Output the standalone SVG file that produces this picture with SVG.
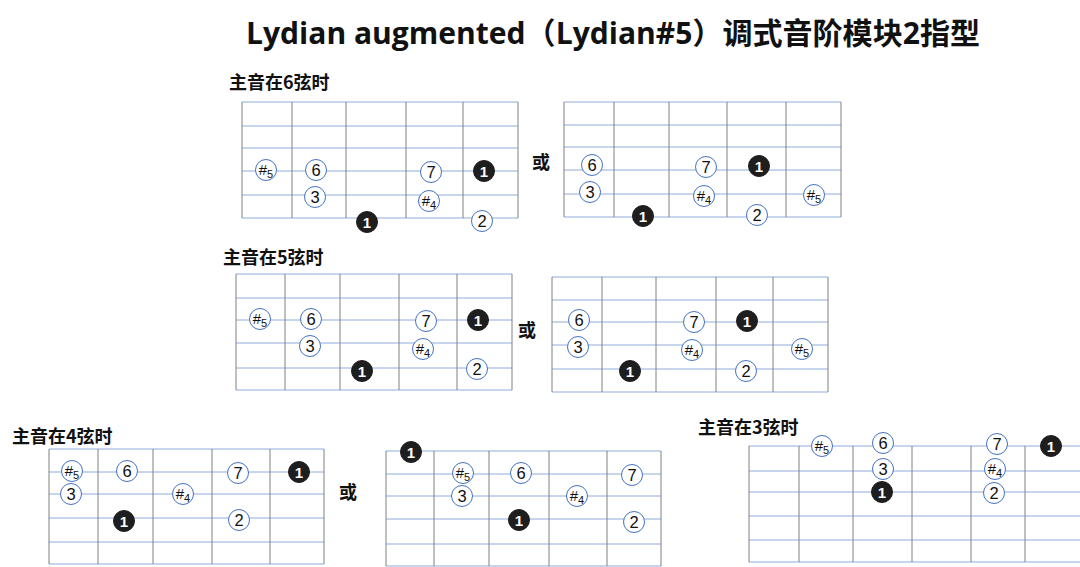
<svg xmlns="http://www.w3.org/2000/svg" width="1080" height="567" viewBox="0 0 1080 567">
<style>
.s{stroke:#8eaadb;stroke-width:1;fill:none}
.f{stroke:#808080;stroke-width:1;fill:none}
.n{fill:#fff;stroke:#4472c4;stroke-width:1}
.r{fill:#1e1e1e;stroke:#1e1e1e;stroke-width:1}
.t{font-family:"Liberation Sans","DejaVu Sans",sans-serif;font-size:16.5px;fill:#111;text-anchor:middle}
.rt{font-family:"Liberation Sans","DejaVu Sans",sans-serif;font-size:15px;font-weight:bold;fill:#fff;text-anchor:middle}
.sh{font-family:"Liberation Sans","DejaVu Sans",sans-serif;font-size:15px;fill:#111;text-anchor:middle}
.sub{font-size:11px}
.lb{font-family:"Noto Sans CJK SC",sans-serif;font-size:18px;font-weight:bold;fill:#111}
.or{font-family:"Noto Sans CJK SC",sans-serif;font-size:18px;font-weight:bold;fill:#111;text-anchor:middle}
</style>
<rect width="1080" height="567" fill="#fff"/>
<text x="246" y="44" textLength="734" lengthAdjust="spacingAndGlyphs" style="font-family:'Open Sans','Noto Sans CJK SC',sans-serif;font-size:30px;font-weight:bold;fill:#111">Lydian augmented（Lydian#5）调式音阶模块2指型</text>
<text class="lb" x="229" y="89">主音在6弦时</text>
<text class="lb" x="223" y="264">主音在5弦时</text>
<text class="lb" x="12" y="443">主音在4弦时</text>
<text class="lb" x="698" y="434">主音在3弦时</text>
<text class="or" x="541" y="169">或</text>
<text class="or" x="527" y="337">或</text>
<text class="or" x="348" y="499">或</text>

<g id="board1">
<path class="s" d="M242 102H518M242 126H518M242 148H518M242 171H518M242 195H518M242 218H518"/>
<path class="f" d="M242 102V218M292 102V218M346 102V218M406 102V218M463 102V218M518 102V218"/>
<g id="b1n1"><circle class="n" cx="266" cy="170" r="10.5"/><text class="sh" x="266" y="175">#<tspan class="sub" dy="3">5</tspan></text></g>
<g id="b1n2"><circle class="n" cx="316" cy="170" r="10.5"/><text class="t" x="316" y="176">6</text></g>
<g id="b1n3"><circle class="n" cx="315" cy="197" r="10.5"/><text class="t" x="315" y="203">3</text></g>
<g id="b1n4"><circle class="r" cx="367" cy="222" r="10.5"/><text class="rt" x="367" y="227.5">1</text></g>
<g id="b1n5"><circle class="n" cx="431" cy="172" r="10.5"/><text class="t" x="431" y="178">7</text></g>
<g id="b1n6"><circle class="n" cx="429" cy="201" r="10.5"/><text class="sh" x="429" y="206">#<tspan class="sub" dy="3">4</tspan></text></g>
<g id="b1n7"><circle class="r" cx="484" cy="171" r="10.5"/><text class="rt" x="484" y="176.5">1</text></g>
<g id="b1n8"><circle class="n" cx="482" cy="221" r="10.5"/><text class="t" x="482" y="227">2</text></g>
</g>

<g id="board2">
<path class="s" d="M564 102H841M564 125H841M564 147H841M564 170H841M564 194H841M564 217H841"/>
<path class="f" d="M564 102V217M614 102V217M669 102V217M727 102V217M786 102V217M841 102V217"/>
<g id="b2n1"><circle class="n" cx="592" cy="165" r="10.5"/><text class="t" x="592" y="171">6</text></g>
<g id="b2n2"><circle class="n" cx="590" cy="192" r="10.5"/><text class="t" x="590" y="198">3</text></g>
<g id="b2n3"><circle class="r" cx="643" cy="216" r="10.5"/><text class="rt" x="643" y="221.5">1</text></g>
<g id="b2n4"><circle class="n" cx="706" cy="167" r="10.5"/><text class="t" x="706" y="173">7</text></g>
<g id="b2n5"><circle class="n" cx="704" cy="196" r="10.5"/><text class="sh" x="704" y="201">#<tspan class="sub" dy="3">4</tspan></text></g>
<g id="b2n6"><circle class="r" cx="759" cy="166" r="10.5"/><text class="rt" x="759" y="171.5">1</text></g>
<g id="b2n7"><circle class="n" cx="757" cy="215" r="10.5"/><text class="t" x="757" y="221">2</text></g>
<g id="b2n8"><circle class="n" cx="814" cy="195" r="10.5"/><text class="sh" x="814" y="200">#<tspan class="sub" dy="3">5</tspan></text></g>
</g>

<g id="board3">
<path class="s" d="M236 274H512M236 298H512M236 320H512M236 343H512M236 368H512M236 390H512"/>
<path class="f" d="M236 274V390M285 274V390M340 274V390M399 274V390M457 274V390M512 274V390"/>
<g id="b3n1"><circle class="n" cx="260" cy="319" r="10.5"/><text class="sh" x="260" y="324">#<tspan class="sub" dy="3">5</tspan></text></g>
<g id="b3n2"><circle class="n" cx="311" cy="319" r="10.5"/><text class="t" x="311" y="325">6</text></g>
<g id="b3n3"><circle class="n" cx="310" cy="346" r="10.5"/><text class="t" x="310" y="352">3</text></g>
<g id="b3n4"><circle class="r" cx="362" cy="371" r="10.5"/><text class="rt" x="362" y="376.5">1</text></g>
<g id="b3n5"><circle class="n" cx="426" cy="321" r="10.5"/><text class="t" x="426" y="327">7</text></g>
<g id="b3n6"><circle class="n" cx="423" cy="349" r="10.5"/><text class="sh" x="423" y="354">#<tspan class="sub" dy="3">4</tspan></text></g>
<g id="b3n7"><circle class="r" cx="478" cy="320" r="10.5"/><text class="rt" x="478" y="325.5">1</text></g>
<g id="b3n8"><circle class="n" cx="477" cy="369" r="10.5"/><text class="t" x="477" y="375">2</text></g>
</g>

<g id="board4">
<path class="s" d="M552 277H828M552 300H828M552 322H828M552 345H828M552 369H828M552 392H828"/>
<path class="f" d="M552 277V392M602 277V392M656 277V392M716 277V392M773 277V392M828 277V392"/>
<g id="b4n1"><circle class="n" cx="579" cy="320" r="10.5"/><text class="t" x="579" y="326">6</text></g>
<g id="b4n2"><circle class="n" cx="578" cy="347" r="10.5"/><text class="t" x="578" y="353">3</text></g>
<g id="b4n3"><circle class="r" cx="630" cy="371" r="10.5"/><text class="rt" x="630" y="376.5">1</text></g>
<g id="b4n4"><circle class="n" cx="694" cy="322" r="10.5"/><text class="t" x="694" y="328">7</text></g>
<g id="b4n5"><circle class="n" cx="692" cy="350" r="10.5"/><text class="sh" x="692" y="355">#<tspan class="sub" dy="3">4</tspan></text></g>
<g id="b4n6"><circle class="r" cx="747" cy="321" r="10.5"/><text class="rt" x="747" y="326.5">1</text></g>
<g id="b4n7"><circle class="n" cx="746" cy="371" r="10.5"/><text class="t" x="746" y="377">2</text></g>
<g id="b4n8"><circle class="n" cx="802" cy="349" r="10.5"/><text class="sh" x="802" y="354">#<tspan class="sub" dy="3">5</tspan></text></g>
</g>

<g id="board5">
<path class="s" d="M49 449H324M49 472H324M49 494H324M49 518H324M49 542H324M49 564H324"/>
<path class="f" d="M49 449V564M98 449V564M153 449V564M212 449V564M270 449V564M324 449V564"/>
<g id="b5n1"><circle class="n" cx="72" cy="471" r="10.5"/><text class="sh" x="72" y="476">#<tspan class="sub" dy="3">5</tspan></text></g>
<g id="b5n2"><circle class="n" cx="127" cy="471" r="10.5"/><text class="t" x="127" y="477">6</text></g>
<g id="b5n3"><circle class="n" cx="71" cy="494" r="10.5"/><text class="t" x="71" y="500">3</text></g>
<g id="b5n4"><circle class="r" cx="124" cy="521" r="10.5"/><text class="rt" x="124" y="526.5">1</text></g>
<g id="b5n5"><circle class="n" cx="183" cy="494" r="10.5"/><text class="sh" x="183" y="499">#<tspan class="sub" dy="3">4</tspan></text></g>
<g id="b5n6"><circle class="n" cx="238" cy="473" r="10.5"/><text class="t" x="238" y="479">7</text></g>
<g id="b5n7"><circle class="n" cx="239" cy="520" r="10.5"/><text class="t" x="239" y="526">2</text></g>
<g id="b5n8"><circle class="r" cx="299" cy="472" r="10.5"/><text class="rt" x="299" y="477.5">1</text></g>
</g>

<g id="board6">
<path class="s" d="M386 451H661M386 474H661M386 496H661M386 519H661M386 544H661M386 566H661"/>
<path class="f" d="M386 451V566M434 451V566M489 451V566M549 451V566M607 451V566M661 451V566"/>
<g id="b6n1"><circle class="r" cx="411" cy="452" r="10.5"/><text class="rt" x="411" y="457.5">1</text></g>
<g id="b6n2"><circle class="n" cx="463" cy="473" r="10.5"/><text class="sh" x="463" y="478">#<tspan class="sub" dy="3">5</tspan></text></g>
<g id="b6n3"><circle class="n" cx="521" cy="473" r="10.5"/><text class="t" x="521" y="479">6</text></g>
<g id="b6n4"><circle class="n" cx="462" cy="496" r="10.5"/><text class="t" x="462" y="502">3</text></g>
<g id="b6n5"><circle class="n" cx="577" cy="496" r="10.5"/><text class="sh" x="577" y="501">#<tspan class="sub" dy="3">4</tspan></text></g>
<g id="b6n6"><circle class="n" cx="632" cy="475" r="10.5"/><text class="t" x="632" y="481">7</text></g>
<g id="b6n7"><circle class="r" cx="519" cy="520" r="10.5"/><text class="rt" x="519" y="525.5">1</text></g>
<g id="b6n8"><circle class="n" cx="634" cy="522" r="10.5"/><text class="t" x="634" y="528">2</text></g>
</g>

<g id="board7">
<path class="s" d="M749 446H1080M749 471H1080M749 492H1080M749 516H1080M749 540H1080M749 562H1080"/>
<path class="f" d="M749 446V562M799 446V562M853 446V562M912 446V562M971 446V562M1025 446V562"/>
<g id="b7n1"><circle class="n" cx="822" cy="446" r="10.5"/><text class="sh" x="822" y="451">#<tspan class="sub" dy="3">5</tspan></text></g>
<g id="b7n2"><circle class="n" cx="883" cy="443" r="10.5"/><text class="t" x="883" y="449">6</text></g>
<g id="b7n3"><circle class="n" cx="883" cy="469" r="10.5"/><text class="t" x="883" y="475">3</text></g>
<g id="b7n4"><circle class="r" cx="882" cy="492" r="10.5"/><text class="rt" x="882" y="497.5">1</text></g>
<g id="b7n5"><circle class="n" cx="997" cy="444" r="10.5"/><text class="t" x="997" y="450">7</text></g>
<g id="b7n6"><circle class="n" cx="995" cy="469" r="10.5"/><text class="sh" x="995" y="474">#<tspan class="sub" dy="3">4</tspan></text></g>
<g id="b7n7"><circle class="n" cx="994" cy="493" r="10.5"/><text class="t" x="994" y="499">2</text></g>
<g id="b7n8"><circle class="r" cx="1051" cy="446" r="10.5"/><text class="rt" x="1051" y="451.5">1</text></g>
</g>
</svg>
